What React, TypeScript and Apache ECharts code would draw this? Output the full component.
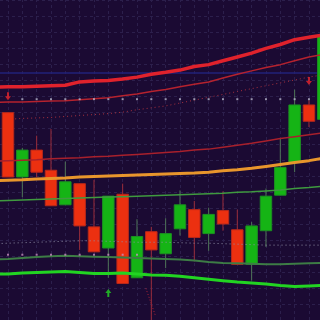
import React, { useEffect, useRef } from "react";
import * as echarts from "echarts";

// Candles: [index, open, close, low, high]
const candles: number[][] = [
  [0, 1329.6, 1289.4, 1289.4, 1329.6],
  [1, 1289.4, 1306.2, 1276.8, 1307.6],
  [2, 1306.2, 1292.4, 1289.4, 1315.2],
  [3, 1293.6, 1271.4, 1271.4, 1319.4],
  [4, 1272.0, 1286.4, 1272.0, 1299.0],
  [5, 1285.2, 1258.8, 1243.8, 1285.2],
  [6, 1258.2, 1242.6, 1242.6, 1287.6],
  [7, 1245.0, 1277.4, 1226.4, 1277.4],
  [8, 1278.6, 1222.8, 1222.8, 1285.2],
  [9, 1226.4, 1252.2, 1226.4, 1263.0],
  [10, 1255.2, 1243.8, 1197.6, 1258.2],
  [11, 1241.4, 1254.0, 1232.4, 1263.6],
  [12, 1257.0, 1272.0, 1252.8, 1281.0],
  [13, 1269.0, 1251.6, 1236.6, 1274.4],
  [14, 1254.0, 1266.0, 1243.2, 1270.2],
  [15, 1268.4, 1260.0, 1255.8, 1280.4],
  [16, 1256.4, 1234.8, 1234.8, 1269.0],
  [17, 1234.8, 1258.8, 1224.6, 1261.2],
  [18, 1255.8, 1277.4, 1245.6, 1282.2],
  [19, 1278.0, 1295.4, 1278.0, 1313.4],
  [20, 1298.4, 1334.4, 1292.4, 1344.0],
  [21, 1334.4, 1324.2, 1320.6, 1337.4],
  [22, 1325.4, 1377.6, 1325.4, 1379.4],
];

// indicator line positions (index -1 .. 22)
const lineX = [-1, 0, 1, 2, 3, 4, 5, 6, 7, 8, 9, 10, 11, 12, 13, 14, 15, 16, 17, 18, 19, 20, 21, 22];
const upperBandThick = [1345.5, 1345.8, 1345.8, 1346.1, 1346.4, 1346.7, 1348.8, 1349.4, 1349.7, 1350.6, 1351.8, 1353.6, 1354.8, 1356.2, 1358.4, 1359.6, 1362.0, 1364.4, 1366.8, 1369.8, 1372.2, 1375.2, 1376.7, 1378.2];
const upperBandThin = [1335.9, 1336.2, 1336.2, 1336.5, 1336.8, 1337.1, 1337.7, 1338.3, 1338.9, 1340.1, 1341.3, 1342.8, 1344.0, 1345.8, 1347.3, 1348.8, 1351.2, 1353.6, 1355.7, 1357.8, 1359.6, 1362.0, 1364.4, 1365.9];
const midRed = [1299.3, 1299.6, 1299.9, 1300.2, 1300.8, 1301.1, 1301.4, 1302.0, 1302.3, 1302.9, 1303.5, 1304.1, 1304.7, 1305.3, 1306.2, 1306.8, 1308.0, 1309.2, 1310.4, 1311.9, 1313.4, 1314.6, 1315.8, 1317.0];
const orangeMA = [1287.0, 1287.3, 1287.6, 1288.2, 1288.5, 1288.8, 1289.4, 1289.7, 1290.0, 1290.3, 1290.6, 1290.9, 1291.2, 1291.5, 1291.8, 1292.4, 1293.3, 1293.9, 1294.8, 1296.0, 1297.2, 1298.4, 1299.6, 1301.1];
const midGreen = [1274.4, 1274.7, 1275.0, 1275.3, 1275.6, 1275.9, 1276.2, 1276.5, 1276.8, 1277.1, 1277.4, 1277.7, 1278.0, 1278.3, 1278.6, 1278.9, 1279.2, 1279.8, 1280.1, 1280.7, 1281.3, 1282.2, 1282.8, 1283.7];
const grayDotted = [1247.7, 1248.0, 1248.3, 1248.6, 1248.9, 1249.2, 1249.5, 1249.5, 1249.2, 1248.9, 1248.6, 1248.6, 1248.6, 1248.3, 1248.0, 1248.0, 1247.7, 1247.4, 1247.1, 1246.8, 1246.8, 1246.8, 1246.8, 1246.8];
const lowerGreenThin = [1237.8, 1238.1, 1238.7, 1239.3, 1239.9, 1240.2, 1239.9, 1239.6, 1239.3, 1239.0, 1238.7, 1238.4, 1238.1, 1237.8, 1237.2, 1236.3, 1235.7, 1235.4, 1235.1, 1234.8, 1234.8, 1235.1, 1235.4, 1235.7];
const lowerGreenThick = [1228.8, 1228.8, 1229.4, 1229.7, 1230.0, 1230.3, 1229.7, 1229.1, 1229.1, 1229.4, 1228.8, 1228.2, 1227.9, 1227.3, 1226.4, 1225.5, 1224.6, 1223.7, 1223.1, 1222.5, 1221.6, 1221.0, 1221.3, 1221.6];

const dottedRedX = [0.5, 1, 2, 3, 4, 5, 6, 7, 8, 9, 10, 11, 12, 13, 14, 15, 16, 17, 18, 19, 20, 21, 22];
const dottedRed = [1325.7, 1326.0, 1326.3, 1326.6, 1327.2, 1327.8, 1328.4, 1329.0, 1329.9, 1331.4, 1332.6, 1333.8, 1335.6, 1337.4, 1339.2, 1341.0, 1342.8, 1344.6, 1346.4, 1348.2, 1350.0, 1351.8, 1353.3];

const diagonalRed: number[][] = [[9.62, 1219.8], [10.3, 1202.4]];
const blueLevel = 1354.6;

const upperDotsX = [1, 2, 3, 4, 5, 6, 7, 8, 9, 10, 11, 12, 13, 14, 15, 16, 17, 18, 19, 20, 21];
const upperDotsY = 1338.0;
const lowerDotsX = [0, 1, 2, 3, 4, 5, 6, 7, 8, 9];
const lowerDotsY = 1240.8;

const sellArrows: number[][] = [[0, 1339.8], [21, 1349.4]];
const buyArrows: number[][] = [[7, 1216.8]];

const gridX = [0, 1, 2, 3, 4, 5, 6, 7, 8, 9, 10, 11, 12, 13, 14, 15, 16, 17, 18, 19, 20, 21];

const zip = (xs: number[], ys: number[]) => xs.map((x, i) => [x, ys[i]]);

const ARROW = "path://M2,0 L4,0 L4,4 L6,4 L3,8 L0,4 L2,4 Z";

export default function App() {
  const ref = useRef<HTMLDivElement>(null);
  useEffect(() => {
    if (!ref.current) return;
    const chart = echarts.init(ref.current, null, { renderer: "svg" });
    const lineSeries = (data: number[][], color: string, width: number, type: any = "solid", z = 4) => ({
      type: "line",
      data,
      showSymbol: false,
      symbol: "none",
      clip: false,
      smooth: false,
      z,
      silent: true,
      lineStyle: { color, width, type },
    });
    chart.setOption({
      animation: false,
      backgroundColor: "#1b0a33",
      grid: { left: 0, right: 0, top: -7.4, bottom: -6, containLabel: false },
      xAxis: {
        type: "value",
        min: -0.558,
        max: 21.77,
        show: true,
        axisLine: { show: false },
        axisTick: { show: false },
        axisLabel: { show: false },
        splitLine: { show: false },
      },
      yAxis: {
        type: "value",
        min: 1200,
        max: 1400,
        interval: 10,
        axisLine: { show: false },
        axisTick: { show: false },
        axisLabel: { show: false },
        splitLine: { show: true, lineStyle: { color: "#2c1f4c", width: 1, type: [3, 3] } },
      },
      series: [
        {
          type: "line",
          data: [[0, 1300]],
          symbol: "none",
          lineStyle: { opacity: 0 },
          z: 0,
          silent: true,
          markLine: {
            silent: true,
            z: 0,
            symbol: "none",
            label: { show: false },
            lineStyle: { color: "#2c1f4c", width: 1, type: [3, 3] },
            data: [
              ...gridX.map((x) => ({ xAxis: x })),
              { yAxis: blueLevel, lineStyle: { color: "#22227a", width: 1.5, type: "solid" } },
            ],
          },
        },
        {
          type: "custom",
          clip: false,
          z: 2,
          data: candles,
          renderItem: (params: any, api: any) => {
            const x = api.value(0);
            const open = api.value(1);
            const close = api.value(2);
            const low = api.value(3);
            const high = api.value(4);
            const pO = api.coord([x, open]);
            const pC = api.coord([x, close]);
            const pL = api.coord([x, low]);
            const pH = api.coord([x, high]);
            const w = api.size([1, 0])[0] * 0.8;
            const bull = close > open;
            return {
              type: "group",
              children: [
                {
                  type: "line",
                  shape: { x1: pH[0], y1: pH[1], x2: pL[0], y2: pL[1] },
                  style: { stroke: bull ? "#4f7558" : "#9a2c3a", lineWidth: 1 },
                },
                {
                  type: "rect",
                  shape: {
                    x: pO[0] - w / 2,
                    y: Math.min(pO[1], pC[1]),
                    width: w,
                    height: Math.max(1, Math.abs(pO[1] - pC[1])),
                  },
                  style: {
                    fill: bull ? "#15b415" : "#ec3010",
                    stroke: bull ? "#1c8f22" : "#b8281a",
                    lineWidth: 1,
                  },
                },
              ],
            };
          },
        },
        lineSeries(zip(lineX, upperBandThick), "#e0222c", 3.5),
        lineSeries(zip(lineX, upperBandThin), "#b5222e", 1.5),
        lineSeries(zip(dottedRedX, dottedRed), "#a8303e", 1, [1, 3]),
        lineSeries(zip(lineX, midRed), "#a8202c", 1.5),
        lineSeries(zip(lineX, orangeMA), "#e8962c", 3),
        lineSeries(zip(lineX, midGreen), "#3f9a3f", 1.5),
        lineSeries(zip(lineX, grayDotted), "#8e8ea4", 1, [1, 3]),
        lineSeries(zip(lineX, lowerGreenThin), "#3d7c45", 2),
        lineSeries(zip(lineX, lowerGreenThick), "#22d422", 3),
        lineSeries(diagonalRed, "#b02434", 1, [1, 2]),
        {
          type: "scatter",
          data: upperDotsX.map((x) => [x, upperDotsY]),
          symbol: "rect",
          symbolSize: 2,
          itemStyle: { color: "#b8b8cc" },
          z: 5,
          silent: true,
        },
        {
          type: "scatter",
          data: lowerDotsX.map((x) => [x, lowerDotsY]),
          symbol: "rect",
          symbolSize: 2,
          itemStyle: { color: "#c890c0" },
          z: 5,
          silent: true,
        },
        {
          type: "scatter",
          data: sellArrows,
          symbol: ARROW,
          symbolSize: [6, 8],
          itemStyle: { color: "#e8242c" },
          z: 6,
          silent: true,
        },
        {
          type: "scatter",
          data: buyArrows,
          symbol: ARROW,
          symbolRotate: 180,
          symbolSize: [6, 8],
          itemStyle: { color: "#22d422" },
          z: 6,
          silent: true,
        },
      ],
    });
    return () => chart.dispose();
  }, []);
  return (
    <div
      ref={ref}
      style={{ position: "fixed", left: 0, top: 0, width: 320, height: 320 }}
    />
  );
}
